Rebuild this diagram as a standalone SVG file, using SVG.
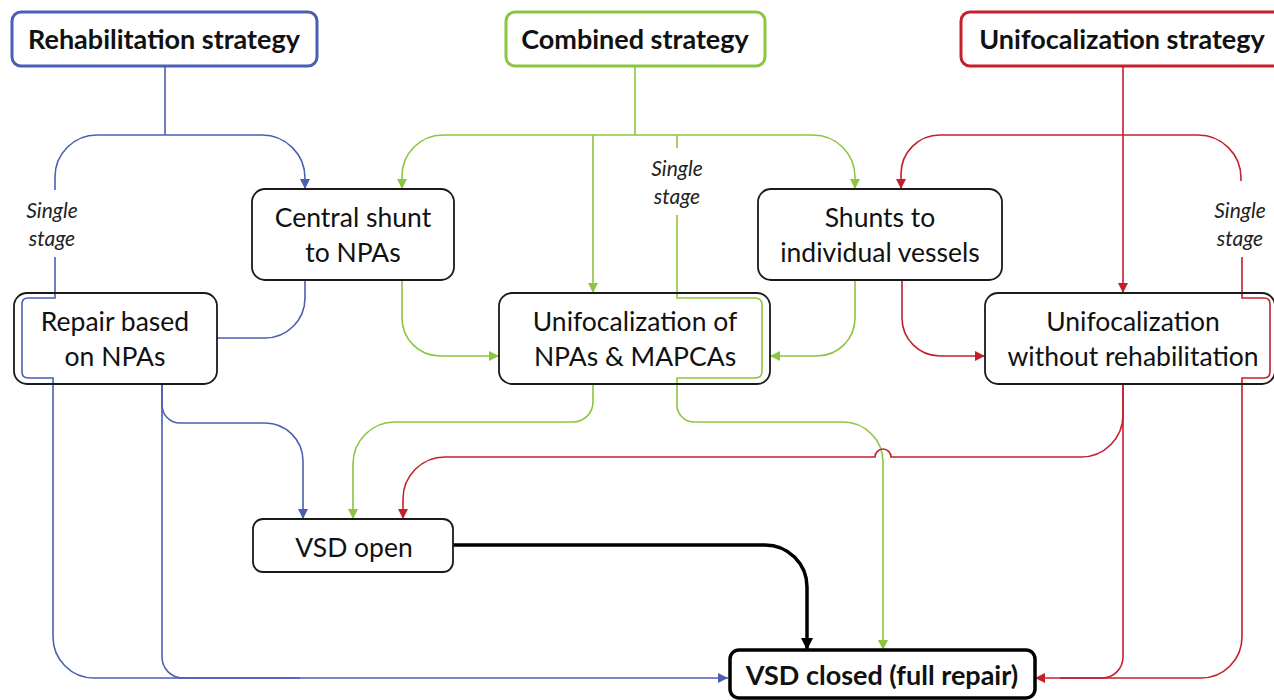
<svg xmlns="http://www.w3.org/2000/svg" width="1274" height="700" viewBox="0 0 1274 700">
<style>
.bg{fill:#fff}
.node rect{fill:#fff;stroke:#1a1a1a;stroke-width:1.8}
.t{font-family:Lato,"Liberation Sans",sans-serif;font-size:26.5px;fill:#111;text-anchor:middle}
.tb{font-family:Lato,"Liberation Sans",sans-serif;font-size:27px;font-weight:bold;fill:#111;text-anchor:middle}
.lbl{font-family:Lato,"Liberation Sans",sans-serif;font-size:21px;font-style:italic;fill:#222;text-anchor:middle}
.c{fill:none;stroke-width:1.6}
.b{stroke:#4a5fb2}
.g{stroke:#8cc540}
.r{stroke:#c4202b}
.k{stroke:#000;stroke-width:3.5}
</style>
<defs>
<marker id="ab" markerUnits="userSpaceOnUse" markerWidth="11" markerHeight="11" refX="10" refY="5" orient="auto"><path d="M0,0 L10,5 L0,10 z" fill="#4a5fb2"/></marker>
<marker id="ag" markerUnits="userSpaceOnUse" markerWidth="11" markerHeight="11" refX="10" refY="5" orient="auto"><path d="M0,0 L10,5 L0,10 z" fill="#8cc540"/></marker>
<marker id="ar" markerUnits="userSpaceOnUse" markerWidth="11" markerHeight="11" refX="10" refY="5" orient="auto"><path d="M0,0 L10,5 L0,10 z" fill="#c4202b"/></marker>
<marker id="ak" markerUnits="userSpaceOnUse" markerWidth="13" markerHeight="13" refX="12" refY="6" orient="auto"><path d="M0,0 L12,6 L0,12 z" fill="#000"/></marker>
</defs>
<rect class="bg" x="0" y="0" width="1274" height="700"/>

<g id="connectors">
  <!-- blue -->
  <path class="c b" d="M165,66 V135 M97,135 H262 A43,43 0 0 1 305,178 V189" marker-end="url(#ab)"/>
  <path class="c b" d="M97,135 A42,42 0 0 0 55,177 V190"/>
  <path class="c b" d="M55,257 V298 H28 Q22,298 22,304 V372 Q22,378 28,378 H53 V637 A41,41 0 0 0 94,678 H728" marker-end="url(#ab)"/>
  <path class="c b" d="M305,280 V298 A40,40 0 0 1 265,338 H217"/>
  <path class="c b" d="M162,384 V405 A18,18 0 0 0 180,423 H265 A38,38 0 0 1 303,461 V519" marker-end="url(#ab)"/>
  <path class="c b" d="M162,384 V657 A21,21 0 0 0 183,678 H300"/>
  <!-- green -->
  <path class="c g" d="M635,66 V135 M443,135 H813"/>
  <path class="c g" d="M443,135 A41,41 0 0 0 402,176 V189" marker-end="url(#ag)"/>
  <path class="c g" d="M813,135 A42,42 0 0 1 855,177 V189" marker-end="url(#ag)"/>
  <path class="c g" d="M593,135 V293" marker-end="url(#ag)"/>
  <path class="c g" d="M677,135 V148"/>
  <path class="c g" d="M677,215 V298 H755 Q762,298 762,305 V371 Q762,378 755,378 H677 V405 A17,17 0 0 0 694,422 H843 A40,40 0 0 1 883,462 V650" marker-end="url(#ag)"/>
  <path class="c g" d="M402,280 V318 A38,38 0 0 0 440,356 H499" marker-end="url(#ag)"/>
  <path class="c g" d="M855,280 V318 A38,38 0 0 1 817,356 H770" marker-end="url(#ag)"/>
  <path class="c g" d="M593,384 V402 A20,20 0 0 1 573,422 H395 A42,42 0 0 0 353,464 V519" marker-end="url(#ag)"/>
  <!-- red -->
  <path class="c r" d="M1123,66 V293" marker-end="url(#ar)"/>
  <path class="c r" d="M940,135 H1198"/>
  <path class="c r" d="M940,135 A39,39 0 0 0 901,174 V189" marker-end="url(#ar)"/>
  <path class="c r" d="M1198,135 A43,43 0 0 1 1241,178 V181"/>
  <path class="c r" d="M1242,257 V298 H1264 Q1270,298 1270,304 V372 Q1270,378 1264,378 H1242 V637 A41,41 0 0 1 1201,678 H1035" marker-end="url(#ar)"/>
  <path class="c r" d="M902,280 V318 A38,38 0 0 0 940,356 H985" marker-end="url(#ar)"/>
  <path class="c r" d="M1123,384 V657 A21,21 0 0 1 1102,678 H1060"/>
  <path class="c r" d="M1123,384 V415 A42,42 0 0 1 1081,457 H891 A8,8 0 0 0 875,457 H445 A42,42 0 0 0 403,499 V519" marker-end="url(#ar)"/>
  <!-- black -->
  <path class="c k" d="M453,545 H765 A42,42 0 0 1 807,587 V650" marker-end="url(#ak)"/>
</g>

<g id="labels">
  <text class="lbl" x="52" y="218">Single</text>
  <text class="lbl" x="52" y="246">stage</text>
  <text class="lbl" x="677" y="176">Single</text>
  <text class="lbl" x="677" y="204">stage</text>
  <text class="lbl" x="1240" y="218">Single</text>
  <text class="lbl" x="1240" y="246">stage</text>
</g>

<g id="rehab-strategy" class="node">
  <rect x="12" y="12" width="305" height="54" rx="9" style="stroke:#4a5fb2;stroke-width:3"/>
  <text class="tb" x="164" y="49">Rehabilitation strategy</text>
</g>
<g id="combined-strategy" class="node">
  <rect x="506" y="12" width="259" height="54" rx="9" style="stroke:#8cc540;stroke-width:3"/>
  <text class="tb" x="635" y="49">Combined strategy</text>
</g>
<g id="unif-strategy" class="node">
  <rect x="961" y="12" width="330" height="54" rx="9" style="stroke:#c4202b;stroke-width:3"/>
  <text class="tb" x="1122" y="49">Unifocalization strategy</text>
</g>
<g id="central-shunt" class="node">
  <rect x="252" y="189" width="202" height="91" rx="13"/>
  <text class="t" x="353" y="227">Central shunt</text>
  <text class="t" x="353" y="262">to NPAs</text>
</g>
<g id="shunts-vessels" class="node">
  <rect x="758" y="189" width="244" height="91" rx="13"/>
  <text class="t" x="880" y="227">Shunts to</text>
  <text class="t" x="880" y="262">individual vessels</text>
</g>
<g id="repair-npas" class="node">
  <rect x="14" y="293" width="203" height="91" rx="13" style="fill:none"/>
  <text class="t" x="115" y="331">Repair based</text>
  <text class="t" x="115" y="366">on NPAs</text>
</g>
<g id="unif-npas-mapcas" class="node">
  <rect x="499" y="293" width="271" height="91" rx="13" style="fill:none"/>
  <text class="t" x="635" y="331">Unifocalization of</text>
  <text class="t" x="635" y="366">NPAs &amp; MAPCAs</text>
</g>
<g id="unif-without-rehab" class="node">
  <rect x="985" y="293" width="290" height="91" rx="13" style="fill:none"/>
  <text class="t" x="1133" y="331">Unifocalization</text>
  <text class="t" x="1133" y="366">without rehabilitation</text>
</g>
<g id="vsd-open" class="node">
  <rect x="253" y="519" width="200" height="53" rx="10"/>
  <text class="t" x="354" y="557">VSD open</text>
</g>
<g id="vsd-closed" class="node">
  <rect x="730" y="650" width="305" height="48" rx="9" style="stroke:#000;stroke-width:3.5"/>
  <text class="tb" x="882" y="685">VSD closed (full repair)</text>
</g>
</svg>
